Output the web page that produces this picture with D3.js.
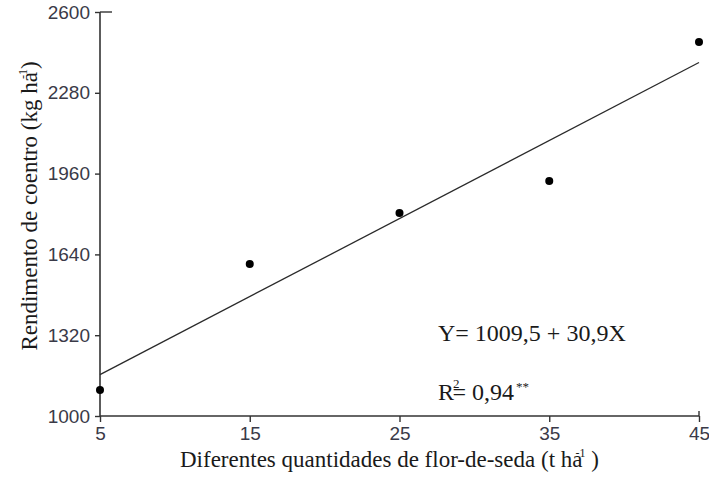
<!DOCTYPE html>
<html>
<head>
<meta charset="utf-8">
<script src="https://cdn.jsdelivr.net/npm/d3@7"></script>
<style>
  html, body { margin: 0; padding: 0; background: #fff; }
  svg { display: block; }
</style>
</head>
<body>
<svg id="chart" width="709" height="477"></svg>
<script>
// Quantities of flor-de-seda (t/ha) and coriander yield (kg/ha)
const doses = [5, 15, 25, 35, 45];
const yieldKg = [1103, 1602, 1804, 1931, 2481];

// Fitted linear regression Y = a + bX
const intercept = 1009.5;
const slope = 30.9;

const xTicks = [5, 15, 25, 35, 45];
const yTicks = [1000, 1320, 1640, 1960, 2280, 2600];

const svg = d3.select("#chart");

const x = d3.scaleLinear().domain([5, 45]).range([100, 699]);
const y = d3.scaleLinear().domain([1000, 2600]).range([416, 12]);

const axisColor = "#333";
const labelFont = "'Liberation Sans', Arial, sans-serif";
const serif = "'Liberation Serif', 'Times New Roman', serif";

// Y axis
const gy = svg.append("g")
  .attr("transform", `translate(${x(5)},0)`)
  .call(d3.axisLeft(y).tickValues(yTicks).tickSize(5).tickPadding(5).tickFormat(d3.format("d")));
gy.select(".domain").attr("stroke", axisColor).attr("stroke-width", 1.6).attr("d", `M0,${y(2600)}V${y(1000)}`);
gy.selectAll(".tick line").attr("stroke", axisColor).attr("stroke-width", 1.4);
gy.selectAll(".tick text")
  .attr("fill", "#3a3a48")
  .style("font-family", labelFont)
  .style("font-size", "19px");
// cap at the top end of the y axis
gy.append("line")
  .attr("x1", 0).attr("x2", 12)
  .attr("y1", y(2600)).attr("y2", y(2600))
  .attr("stroke", axisColor).attr("stroke-width", 1.4);

// X axis
const gx = svg.append("g")
  .attr("transform", `translate(0,${y(1000)})`)
  .call(d3.axisBottom(x).tickValues(xTicks).tickSize(6).tickPadding(5));
gx.select(".domain").attr("stroke", axisColor).attr("stroke-width", 1.6).attr("d", `M${x(5)},0H${x(45)}`);
gx.selectAll(".tick line").attr("stroke", axisColor).attr("stroke-width", 1.4);
gx.selectAll(".tick text")
  .attr("fill", "#3a3a48")
  .style("font-family", labelFont)
  .style("font-size", "19px");
// cap at the right end of the x axis
gx.append("line")
  .attr("x1", x(45)).attr("x2", x(45))
  .attr("y1", -5).attr("y2", 0)
  .attr("stroke", axisColor).attr("stroke-width", 1.4);

// Regression line
const fitX = [d3.min(doses), d3.max(doses)];
svg.append("line")
  .attr("x1", x(fitX[0])).attr("y1", y(intercept + slope * fitX[0]))
  .attr("x2", x(fitX[1])).attr("y2", y(intercept + slope * fitX[1]))
  .attr("stroke", "#2a2a2a")
  .attr("stroke-width", 1.3);

// Observed means
svg.selectAll("circle.obs")
  .data(doses.map((d, i) => ({ d, v: yieldKg[i] })))
  .join("circle")
  .attr("class", "obs")
  .attr("cx", p => x(p.d))
  .attr("cy", p => y(p.v))
  .attr("r", 4)
  .attr("fill", "#000");

// Axis titles
const xt = svg.append("text")
  .attr("x", 180).attr("y", 467)
  .attr("fill", "#1a1a1a")
  .style("font-family", serif)
  .style("font-size", "23px");
xt.append("tspan").text("Diferentes quantidades de flor-de-seda (t ha");
xt.append("tspan").attr("dx", -7).attr("dy", -10).style("font-size", "12px").text("-1");
xt.append("tspan").attr("dy", 10).text(" )");

const yt = svg.append("text")
  .attr("transform", "translate(37,206) rotate(-90)")
  .attr("text-anchor", "middle")
  .attr("fill", "#1a1a1a")
  .style("font-family", serif)
  .style("font-size", "23px");
yt.append("tspan").text("Rendimento de coentro (kg ha");
yt.append("tspan").attr("dx", -7).attr("dy", -10).style("font-size", "12px").text("-1");
yt.append("tspan").attr("dy", 10).text(")");

// Regression equation and coefficient of determination
svg.append("text")
  .attr("x", 438).attr("y", 341)
  .attr("fill", "#1a1a1a")
  .style("font-family", serif)
  .style("font-size", "24px")
  .text(`Y= ${String(intercept).replace(".", ",")} + ${String(slope).replace(".", ",")}X`);

const r2 = svg.append("text")
  .attr("x", 438).attr("y", 400)
  .attr("fill", "#1a1a1a")
  .style("font-family", serif)
  .style("font-size", "24px");
r2.append("tspan").text("R");
r2.append("tspan").attr("dx", -1).attr("dy", -12).style("font-size", "13px").text("2");
r2.append("tspan").attr("dx", -7).attr("dy", 12).text("= 0,94");
r2.append("tspan").attr("dx", 2).attr("dy", -9).style("font-size", "13px").text("**");
</script>
</body>
</html>
